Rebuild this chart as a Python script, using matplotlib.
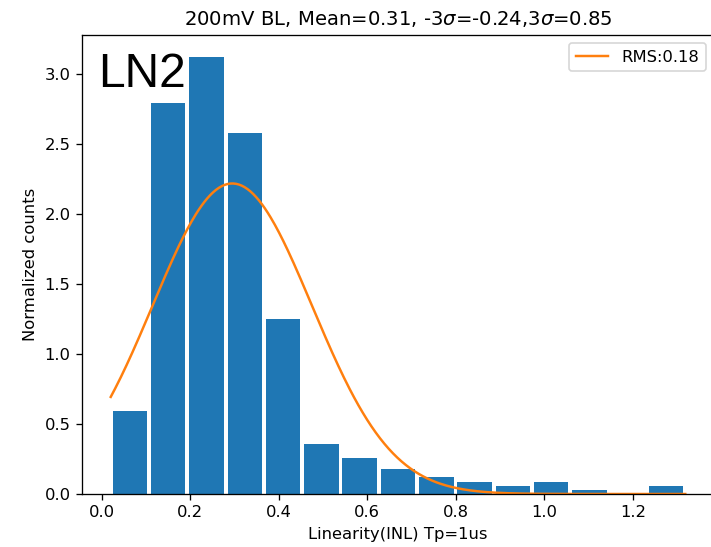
import numpy as np
import matplotlib
matplotlib.use("Agg")
import matplotlib.pyplot as plt

# Histogram bins (INL values) and normalized heights
bin_lo = 0.0205
bin_hi = 1.318
n_bins = 15
heights = [0.59, 2.79, 3.12, 2.58, 1.25, 0.36, 0.26, 0.18, 0.12, 0.088,
           0.055, 0.088, 0.029, 0.0, 0.055]

# Gaussian fit parameters
fit_mean = 0.295
fit_rms = 0.18

title_text = "200mV BL, Mean=0.31, -3$\\sigma$=-0.24,3$\\sigma$=0.85"
legend_label = "RMS:0.18"

edges = np.linspace(bin_lo, bin_hi, n_bins + 1)
centers = 0.5 * (edges[:-1] + edges[1:])

DPI = 118
W, H = 711, 547
fig = plt.figure(figsize=(W / DPI, H / DPI), dpi=DPI)
ax = fig.add_axes([82 / W, (H - 494) / H, (714 - 82) / W, (494 - 35) / H])

ax.hist(centers, bins=edges, weights=heights, rwidth=0.9, color="#1f77b4")

xs = np.linspace(bin_lo, bin_hi, 400)
pdf = np.exp(-0.5 * ((xs - fit_mean) / fit_rms) ** 2) / (fit_rms * np.sqrt(2 * np.pi))
ax.plot(xs, pdf, color="#ff7f0e", label=legend_label)

ax.set_title(title_text)
ax.set_xlabel("Linearity(INL) Tp=1us")
ax.set_ylabel("Normalized counts")
ax.legend(loc="upper right")
ax.spines["right"].set_visible(False)

fig.text(98 / W, 1 - 87 / H, "LN2", fontsize=29.3, family="Liberation Sans",
         ha="left", va="baseline")

fig.savefig("out.png", dpi=DPI)
